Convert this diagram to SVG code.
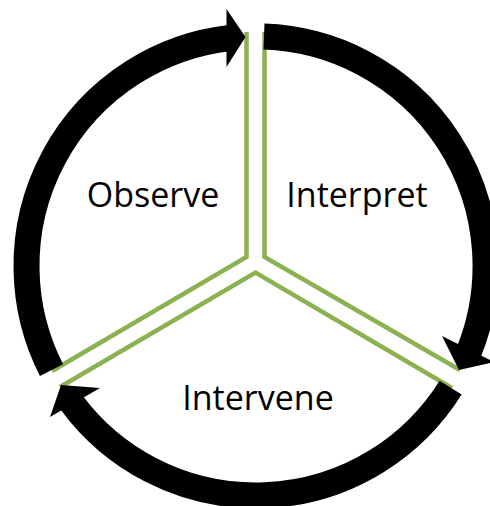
<svg xmlns="http://www.w3.org/2000/svg" width="490" height="506" viewBox="0 0 490 506">
  <style>
    .sep { fill: none; stroke: #8CB150; stroke-width: 4.5; stroke-linejoin: miter; }
    .arc { fill: none; stroke: #000000; stroke-width: 26; stroke-linecap: butt; }
    .head { fill: #000000; stroke: none; }
    .label { font-family: "Open Sans", "Noto Sans", sans-serif; font-size: 34px; fill: #000000; text-anchor: middle; }
  </style>
  <rect width="490" height="506" fill="#ffffff"/>
  <g id="observe">
    <polyline class="sep" points="246.5,32 246.5,257 52,371"/>
    <text class="label" x="153" y="207">Observe</text>
  </g>
  <g id="interpret">
    <polyline class="sep" points="264.5,32 264.5,257 460,370"/>
    <text class="label" x="357" y="207">Interpret</text>
  </g>
  <g id="intervene">
    <polyline class="sep" points="60,387 255.5,272.5 452,388"/>
    <text class="label" x="258" y="410">Intervene</text>
  </g>
  <g id="connectors">
    <path class="arc" d="M 51.5 370.2 A 229.5 229.5 0 0 1 230.0 38.0"/>
    <polygon class="head" points="226.5,9 245.5,37 226.5,67"/>
    <path class="arc" d="M 264.0 36.6 A 229.5 229.5 0 0 1 468.8 352.0"/>
    <polygon class="head" points="442,336 494,362 459,370"/>
    <path class="arc" d="M 450.6 387.6 A 229.5 229.5 0 0 1 71.5 402.5"/>
    <polygon class="head" points="100,388 50,417 61,385"/>
  </g>
</svg>
